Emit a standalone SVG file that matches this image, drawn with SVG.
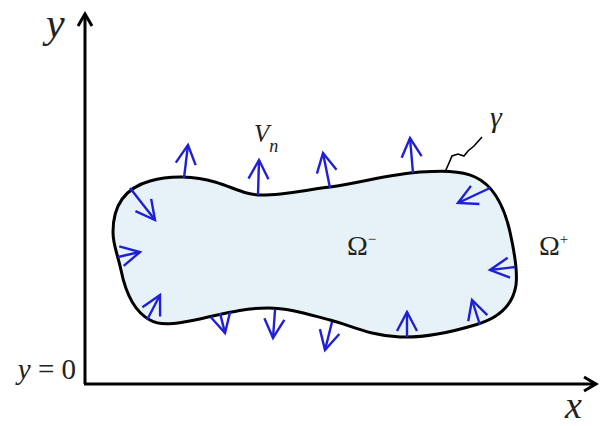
<svg xmlns="http://www.w3.org/2000/svg" width="600" height="426" viewBox="0 0 600 426">
<defs>
<style>
.ax{stroke:#000;stroke-width:3;fill:none}
.vec{stroke:#1f1fd6;stroke-width:2.4;fill:none;marker-end:url(#bh)}
.lbl{font-family:"Liberation Serif",serif;fill:#222}
.it{font-style:italic}
</style>
<marker id="bh" markerUnits="userSpaceOnUse" markerWidth="30" markerHeight="30" refX="0" refY="0" orient="auto" overflow="visible">
<path d="M-19,-10 L0,0 L-19,10" fill="none" stroke="#1f1fd6" stroke-width="2.4"/>
</marker>
<marker id="kh" markerUnits="userSpaceOnUse" markerWidth="30" markerHeight="30" refX="0" refY="0" orient="auto" overflow="visible">
<path d="M-12,-7 L0,0 L-12,7" fill="none" stroke="#000" stroke-width="3"/>
</marker>
</defs>
<rect width="600" height="426" fill="#fff"/>
<g id="axes">
<path class="ax" d="M85,384 L85,14" marker-end="url(#kh)"/>
<path class="ax" d="M84,384 L596,384" marker-end="url(#kh)"/>
</g>
<g id="domain">
<path d="M113,232 C113,205 125,188 150,181 C170,175 195,176 215,182 C235,188 245,195 262,195 C285,195 305,190 330,187 C360,183 390,174 420,172 C440,171 460,170 475,177 C495,186 505,210 510,232 C514,250 518,270 516,285 C513,305 500,318 475,325 C455,331 425,338 400,337 C370,336 350,325 330,320 C310,315 290,308 268,308 C240,308 220,315 195,320 C175,324 160,326 150,320 C135,312 126,295 121,270 C117,252 113,245 113,232 Z" fill="#e6f2f8" stroke="#000" stroke-width="3"/>
</g>
<g id="connectors">
<path class="vec" d="M184,178 L188,145"/>
<path class="vec" d="M258,195 L259,160"/>
<path class="vec" d="M330,188 L323,153"/>
<path class="vec" d="M413,173 L410,138"/>
<path class="vec" d="M490,188 L458,203"/>
<path class="vec" d="M130,188 L155,220"/>
<path class="vec" d="M118,257 L140,252"/>
<path class="vec" d="M147,320 L160,295"/>
<path class="vec" d="M220,313 L225,333"/>
<path class="vec" d="M275,310 L273,338"/>
<path class="vec" d="M332,322 L325,350"/>
<path class="vec" d="M407,337 L407,312"/>
<path class="vec" d="M480,325 L472,300"/>
<path class="vec" d="M515,267 L490,270"/>
<polyline points="445,172 449,163 452,156 458,154 464,156 468,151 474,146 482,137" fill="none" stroke="#000" stroke-width="1.6"/>
</g>
<g id="labels">
<text class="lbl it" x="46" y="37" font-size="42">y</text>
<text class="lbl it" x="565" y="418" font-size="38">x</text>
<text class="lbl" x="76" y="379" font-size="29" text-anchor="end"><tspan class="it">y</tspan> = 0</text>
<text class="lbl it" x="254" y="142" font-size="25">V<tspan font-size="18" dy="10">n</tspan></text>
<text class="lbl it" x="490" y="127" font-size="30">γ</text>
<text class="lbl" x="347" y="255" font-size="28">Ω<tspan font-size="15" dy="-11">−</tspan></text>
<text class="lbl" x="539" y="255" font-size="28">Ω<tspan font-size="15" dy="-11">+</tspan></text>
</g>
</svg>
